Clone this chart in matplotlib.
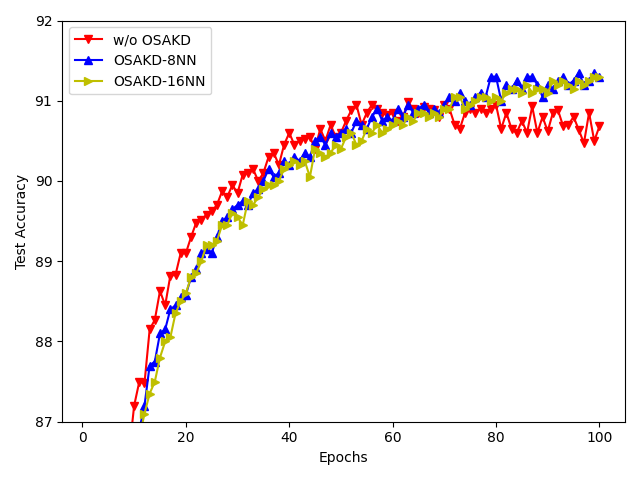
import numpy as np
import matplotlib
matplotlib.use('Agg')
import matplotlib.pyplot as plt

epochs = np.arange(1, 101)

# w/o OSAKD (epochs 1..100)
acc_base = [60.0, 72.0, 77.5, 80.5, 82.5, 83.8, 84.8, 85.6, 86.6, 87.2,
            87.5, 87.48, 88.15, 88.27, 88.63, 88.45, 88.82, 88.83, 89.1, 89.1,
            89.3, 89.48, 89.52, 89.58, 89.62, 89.7, 89.87, 89.8, 89.95, 89.85,
            90.08, 90.1, 90.15, 90.0, 90.1, 90.3, 90.35, 90.2, 90.45, 90.6,
            90.45, 90.5, 90.52, 90.55, 90.4, 90.65, 90.5, 90.7, 90.55, 90.6,
            90.75, 90.88, 90.95, 90.7, 90.85, 90.95, 90.9, 90.85, 90.82, 90.85,
            90.75, 90.8, 90.98, 90.9, 90.85, 90.92, 90.9, 90.88, 90.8, 90.95,
            90.9, 90.7, 90.65, 90.85, 90.9, 90.85, 90.9, 90.85, 90.9, 90.95,
            90.65, 90.85, 90.65, 90.6, 90.75, 90.6, 90.93, 90.6, 90.8, 90.62,
            90.85, 90.88, 90.68, 90.7, 90.8, 90.64, 90.47, 90.85, 90.5, 90.68]

# OSAKD-8NN
acc_8nn = [55.0, 68.0, 75.0, 79.0, 81.5, 83.0, 84.2, 85.1, 85.8, 86.4,
           86.9, 87.2, 87.7, 87.75, 88.1, 88.15, 88.4, 88.45, 88.55, 88.58,
           88.8, 88.9, 89.1, 89.15, 89.1, 89.3, 89.5, 89.55, 89.65, 89.7,
           89.75, 89.7, 89.85, 89.9, 90.0, 90.15, 90.05, 90.1, 90.25, 90.2,
           90.3, 90.25, 90.35, 90.3, 90.5, 90.55, 90.45, 90.6, 90.55, 90.6,
           90.65, 90.6, 90.75, 90.7, 90.65, 90.8, 90.9, 90.75, 90.8, 90.75,
           90.9, 90.8, 90.95, 90.85, 90.9, 90.95, 90.85, 90.9, 90.85, 90.95,
           91.05, 91.0, 91.1, 91.0, 90.95, 91.05, 91.1, 91.05, 91.3, 91.3,
           91.0, 91.2, 91.15, 91.25, 91.15, 91.3, 91.3, 91.2, 91.05, 91.2,
           91.15, 91.25, 91.3, 91.2, 91.25, 91.35, 91.2, 91.25, 91.35, 91.3]

# OSAKD-16NN
acc_16nn = [54.0, 67.0, 74.5, 78.5, 81.0, 82.7, 84.0, 85.0, 85.7, 86.3,
            86.8, 87.1, 87.35, 87.5, 87.8, 88.0, 88.05, 88.35, 88.5, 88.6,
            88.8, 88.85, 89.0, 89.2, 89.2, 89.25, 89.45, 89.45, 89.6, 89.55,
            89.45, 89.75, 89.7, 89.8, 89.9, 89.95, 89.95, 90.0, 90.15, 90.2,
            90.25, 90.2, 90.25, 90.05, 90.4, 90.35, 90.3, 90.35, 90.45, 90.4,
            90.55, 90.6, 90.45, 90.5, 90.65, 90.6, 90.7, 90.6, 90.65, 90.7,
            90.75, 90.7, 90.8, 90.75, 90.85, 90.85, 90.8, 90.85, 90.8, 90.9,
            90.9, 91.05, 91.05, 90.9, 90.95, 91.0, 91.05, 91.05, 91.0, 91.05,
            91.0, 91.1, 91.15, 91.15, 91.1, 91.2, 91.1, 91.15, 91.15, 91.1,
            91.25, 91.2, 91.25, 91.2, 91.15, 91.25, 91.2, 91.25, 91.3, 91.3]

fig = plt.figure(figsize=(6.4, 4.8), dpi=100)
plt.plot(epochs, acc_base, 'r-v', label='w/o OSAKD')
plt.plot(epochs, acc_8nn, 'b-^', label='OSAKD-8NN')
plt.plot(epochs, acc_16nn, 'y->', label='OSAKD-16NN')

plt.ylim(87, 92)
plt.xlabel('Epochs')
plt.ylabel('Test Accuracy')
plt.legend(loc='upper left')
plt.tight_layout()
plt.savefig('out.png')
